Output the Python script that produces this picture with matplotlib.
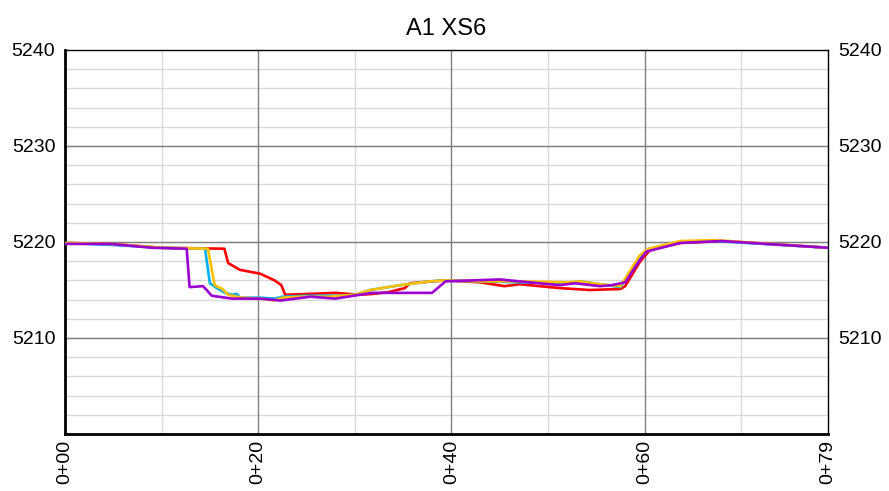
import matplotlib
matplotlib.use("Agg")
import matplotlib.pyplot as plt
import numpy as np

plt.rcParams['font.family'] = ['Liberation Sans', 'DejaVu Sans']

# station (ft) and elevation for each surveyed profile
red_x = [0, 4.7, 10, 16.5, 16.9, 18.1, 20.2, 21.7, 22.4, 22.8, 25.4, 28, 30.5, 32, 33.6, 35.2, 35.7, 39.3, 43, 45.5, 47.1, 51.2, 54.3, 57.5, 58, 59.5, 60.6, 63.7, 68, 79]
red_y = [5219.9, 5219.8, 5219.4, 5219.3, 5217.8, 5217.1, 5216.7, 5216.0, 5215.5, 5214.5, 5214.6, 5214.7, 5214.5, 5214.6, 5214.8, 5215.2, 5215.7, 5216.0, 5215.8, 5215.4, 5215.6, 5215.2, 5215.0, 5215.1, 5215.4, 5217.9, 5219.2, 5219.9, 5220.1, 5219.4]

cyan_x = [0, 4.7, 10, 14.5, 15, 15.7, 16.6, 17.3, 17.8, 18.1, 20.2, 21.7, 22.5, 25, 28.5, 30, 31.6, 34.7, 37.8, 39.3, 43, 47, 52, 53.3, 55.4, 57.5, 59.5, 60.4, 63.7, 67.3, 79]
cyan_y = [5219.9, 5219.7, 5219.4, 5219.3, 5215.7, 5215.2, 5214.7, 5214.5, 5214.6, 5214.2, 5214.2, 5214.1, 5214.3, 5214.4, 5214.4, 5214.5, 5215.0, 5215.5, 5215.9, 5216.0, 5215.9, 5215.8, 5215.7, 5215.9, 5215.6, 5215.3, 5218.4, 5219.2, 5220.0, 5220.1, 5219.4]

orange_x = [0, 4.7, 10, 14.8, 15.5, 16.3, 16.9, 17.8, 18.3, 20.2, 21.7, 22.5, 24.3, 27.4, 30, 31.6, 34.7, 37.8, 39.3, 43, 47.1, 52.2, 53.3, 55.4, 57.5, 59.5, 60.4, 63.7, 67.3, 79]
orange_y = [5219.9, 5219.8, 5219.4, 5219.3, 5215.5, 5215.1, 5214.5, 5214.3, 5214.2, 5214.1, 5213.9, 5214.2, 5214.3, 5214.3, 5214.5, 5215.0, 5215.5, 5215.9, 5216.0, 5215.9, 5215.9, 5215.8, 5215.9, 5215.6, 5215.4, 5218.6, 5219.3, 5220.1, 5220.2, 5219.4]

purple_x = [0, 4.7, 9, 12.6, 12.9, 14.3, 15.2, 17.3, 20.2, 22.3, 25.4, 28, 30.5, 31.8, 33.1, 38, 39.4, 45, 51.2, 52.8, 55.4, 56.6, 58, 59.5, 60.2, 63.7, 68, 79]
purple_y = [5219.8, 5219.8, 5219.4, 5219.3, 5215.3, 5215.4, 5214.4, 5214.1, 5214.1, 5213.9, 5214.3, 5214.1, 5214.5, 5214.7, 5214.7, 5214.7, 5215.9, 5216.1, 5215.5, 5215.7, 5215.4, 5215.5, 5215.8, 5218.1, 5219.0, 5219.9, 5220.1, 5219.4]

x_ticks = [0, 20, 40, 60, 79]
x_labels = ['0+00', '0+20', '0+40', '0+60', '0+79']
y_ticks = [5210, 5220, 5230, 5240]

fig = plt.figure(figsize=(8.89, 4.91), dpi=100)
ax = fig.add_axes([0.0731, 0.1161, 0.8583, 0.7821])

# grid: light minor lines, darker major lines
for yv in np.arange(5202, 5240, 2):
    ax.axhline(yv, color='#d9d9d9', lw=1.0, zorder=0)
for xv in [10, 30, 50, 70]:
    ax.axvline(xv, color='#d9d9d9', lw=1.0, zorder=0)
for yv in [5210, 5220, 5230]:
    ax.axhline(yv, color='#808080', lw=1.0, zorder=0)
for xv in [20, 40, 60]:
    ax.axvline(xv, color='#808080', lw=1.0, zorder=0)

ax.plot(red_x, red_y, color='#ff0000', lw=1.9, zorder=2)
ax.plot(cyan_x, cyan_y, color='#00b0f0', lw=1.9, zorder=3)
ax.plot(orange_x, orange_y, color='#ffc000', lw=1.9, zorder=4)
ax.plot(purple_x, purple_y, color='#9b00d3', lw=1.9, zorder=5)

ax.set_xlim(0, 79)
ax.set_ylim(5200, 5240)
ax.set_xticks(x_ticks)
ax.set_xticklabels(x_labels, rotation=90, fontsize=14)
ax.set_yticks(y_ticks)
ax.tick_params(axis='y', labelsize=14, length=0, pad=7, labelright=True, right=False)
ax.tick_params(axis='x', length=0, pad=4)

ax.spines['left'].set_linewidth(2)
ax.spines['bottom'].set_linewidth(2)
ax.spines['right'].set_linewidth(1)
ax.spines['top'].set_linewidth(1)

ax.set_title('A1 XS6', fontsize=17, pad=11)

fig.savefig('out.png', dpi=100)
